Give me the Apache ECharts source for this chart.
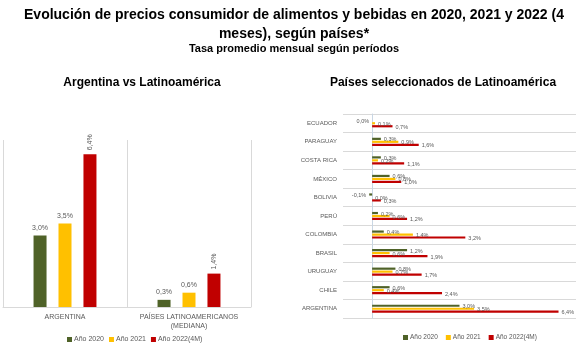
<!DOCTYPE html>
<html><head><meta charset="utf-8">
<script src="https://cdn.jsdelivr.net/npm/echarts@6/dist/echarts.min.js"></script>
<style>html,body{margin:0;padding:0;background:#fff}#c{width:588px;height:364px}</style>
</head><body><div id="c"></div>
<script>
const seriesNames = ['Año 2020', 'Año 2021', 'Año 2022(4M)'];
const colors = ['#4f6228', '#ffc000', '#c00000'];

const leftCategories = ['ARGENTINA', 'PAÍSES LATINOAMERICANOS\n(MEDIANA)'];
const left2020 = [3.0, 0.3];
const left2021 = [3.5, 0.6];
const left2022 = [6.4, 1.4];

const rightCategories = ['ECUADOR', 'PARAGUAY', 'COSTA RICA', 'MÉXICO', 'BOLIVIA', 'PERÚ', 'COLOMBIA', 'BRASIL', 'URUGUAY', 'CHILE', 'ARGENTINA'];
const right2020 = [0.0, 0.3, 0.3, 0.6, -0.1, 0.2, 0.4, 1.2, 0.8, 0.6, 3.0];
const right2021 = [0.1, 0.9, 0.2, 0.8, 0.0, 0.6, 1.4, 0.6, 0.7, 0.4, 3.5];
const right2022 = [0.7, 1.6, 1.1, 1.0, 0.3, 1.2, 3.2, 1.9, 1.7, 2.4, 6.4];

const FONT = '"Liberation Sans", Arial, sans-serif';
const fmt = v => v.toFixed(1).replace('.', ',') + '%';
const LBL = '#595959';

function leftSeries(name, data, idx, rotated) {
  return {
    name, type: 'bar', xAxisIndex: 0, yAxisIndex: 0, data,
    barWidth: 13, barGap: '92%',
    itemStyle: { color: colors[idx] },
    label: rotated ? {
      show: true, position: 'top', rotate: 90, align: 'left', verticalAlign: 'middle', distance: 4,
      formatter: p => fmt(p.value), fontSize: 7, color: LBL, fontFamily: FONT
    } : {
      show: true, position: 'top', distance: 4,
      formatter: p => fmt(p.value), fontSize: 7, color: LBL, fontFamily: FONT
    }
  };
}
function rightSeries(name, data, idx) {
  return {
    name, type: 'bar', xAxisIndex: 1, yAxisIndex: 1,
    data: data.map(v => ({ value: v, label: { position: (v < 0 || (v === 0 && idx === 0)) ? 'left' : 'right' } })),
    barWidth: 2.2, barGap: '35%',
    itemStyle: { color: colors[idx] },
    label: { show: true, position: 'right', distance: 3, offset: [0, 1],
      formatter: p => fmt(p.value), fontSize: 5.5, color: LBL, fontFamily: FONT }
  };
}

const chart = echarts.init(document.getElementById('c'), null, { renderer: 'canvas' });
chart.setOption({
  animation: false,
  backgroundColor: '#fff',
  title: [
    { text: 'Evolución de precios consumidor de alimentos y bebidas en 2020, 2021 y 2022 (4', left: 'center', top: 3,
      textStyle: { fontFamily: FONT, fontSize: 14, fontWeight: 'bold', color: '#000' } },
    { text: 'meses), según países*', left: 'center', top: 22,
      textStyle: { fontFamily: FONT, fontSize: 14, fontWeight: 'bold', color: '#000' } },
    { text: 'Tasa promedio mensual según períodos', left: 'center', top: 38,
      textStyle: { fontFamily: FONT, fontSize: 11, fontWeight: 'bold', color: '#000' } },
    { text: 'Argentina vs Latinoamérica', left: 137, textAlign: 'center', top: 72,
      textStyle: { fontFamily: FONT, fontSize: 12, fontWeight: 'bold', color: '#000' } },
    { text: 'Países seleccionados de Latinoamérica', left: 438, textAlign: 'center', top: 72,
      textStyle: { fontFamily: FONT, fontSize: 12, fontWeight: 'bold', color: '#000' } }
  ],
  legend: [
    { data: seriesNames, left: 62, top: 331, orient: 'horizontal', icon: 'rect', itemWidth: 5, itemHeight: 5, itemGap: 5,
      textStyle: { fontSize: 7, color: LBL, fontFamily: FONT, padding: [0, 0, 0, -3] } },
    { data: seriesNames, left: 398, top: 329, width: 188, icon: 'rect', itemWidth: 5, itemHeight: 5, itemGap: 8,
      textStyle: { fontSize: 6.5, color: LBL, fontFamily: FONT, padding: [0, 0, 0, -3] } }
  ],
  grid: [
    { left: 3, right: 337, top: 140, bottom: 57 },
    { left: 343, right: 12, top: 114, bottom: 46 }
  ],
  xAxis: [
    { gridIndex: 0, type: 'category', data: leftCategories,
      axisLine: { lineStyle: { color: '#d9d9d9' } }, axisTick: { show: false },
      splitLine: { show: true, lineStyle: { color: '#d9d9d9' } },
      axisLabel: { interval: 0, fontSize: 7, color: LBL, fontFamily: FONT, margin: 6, lineHeight: 9 } },
    { gridIndex: 1, type: 'value', min: -1, max: 7, show: false, splitLine: { show: false } }
  ],
  yAxis: [
    { gridIndex: 0, type: 'value', min: 0, max: 7, show: false },
    { gridIndex: 1, type: 'category', data: rightCategories, inverse: true,
      axisLine: { show: true, onZero: true, lineStyle: { color: '#c9d6e3' } }, axisTick: { show: false },
      splitLine: { show: true, lineStyle: { color: '#d9d9d9' } },
      axisLabel: { interval: 0, fontSize: 6, color: LBL, fontFamily: FONT, margin: 6 } }
  ],
  series: [
    leftSeries(seriesNames[0], left2020, 0, false),
    leftSeries(seriesNames[1], left2021, 1, false),
    leftSeries(seriesNames[2], left2022, 2, true),
    rightSeries(seriesNames[0], right2020, 0),
    rightSeries(seriesNames[1], right2021, 1),
    rightSeries(seriesNames[2], right2022, 2)
  ]
});
</script></body></html>
